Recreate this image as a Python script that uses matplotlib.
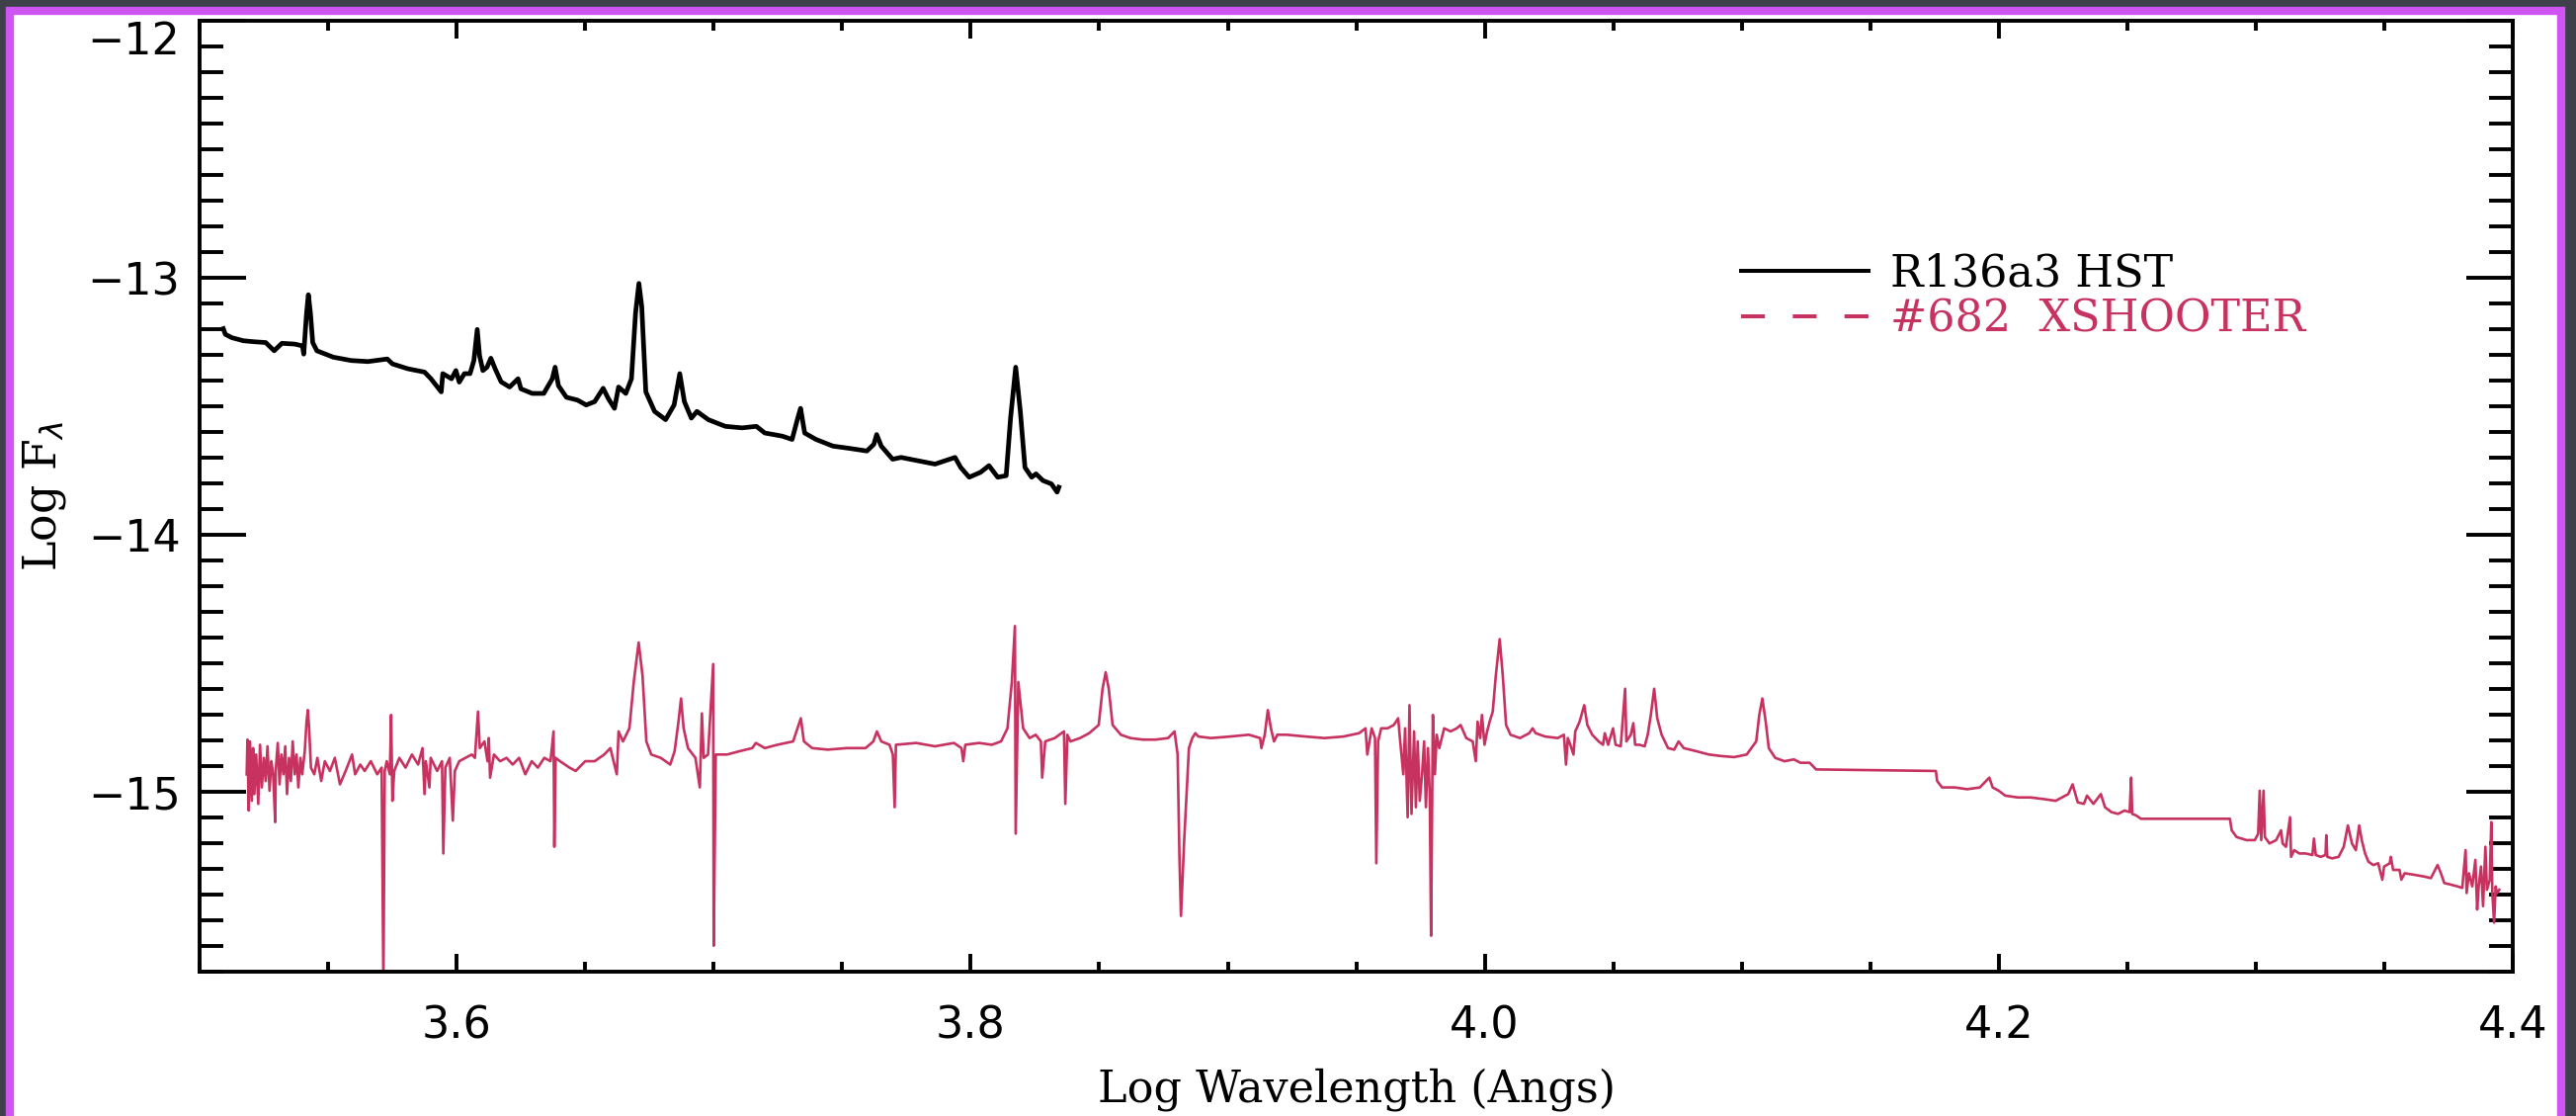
import matplotlib.pyplot as plt
from matplotlib.lines import Line2D
from matplotlib.patches import Rectangle
from matplotlib.ticker import MultipleLocator

# R136a3 HST spectrum (log wavelength / log flux)
hst_logwave = [3.5092, 3.5100, 3.5125, 3.5170, 3.5213, 3.5257, 3.5290, 3.5320, 3.5370, 3.5400,
               3.5405, 3.5416, 3.5423, 3.5431, 3.5440, 3.5456, 3.5520, 3.5590, 3.5655, 3.5730,
               3.5750, 3.5810, 3.5875, 3.5900, 3.5940, 3.5946, 3.5980, 3.5997, 3.6010, 3.6030,
               3.6052, 3.6067, 3.6080, 3.6089, 3.6102, 3.6118, 3.6133, 3.6150, 3.6173, 3.6206,
               3.6239, 3.6250, 3.6294, 3.6339, 3.6372, 3.6383, 3.6396, 3.6427, 3.6470, 3.6504,
               3.6537, 3.6570, 3.6590, 3.6614, 3.6630, 3.6658, 3.6680, 3.6696, 3.6709, 3.6720,
               3.6736, 3.6770, 3.6813, 3.6846, 3.6868, 3.6886, 3.6913, 3.6935, 3.6979, 3.7045,
               3.7111, 3.7166, 3.7199, 3.7266, 3.7305, 3.7327, 3.7338, 3.7354, 3.7398, 3.7464,
               3.7530, 3.7596, 3.7623, 3.7634, 3.7652, 3.7696, 3.7729, 3.7795, 3.7861, 3.7939,
               3.7961, 3.7994, 3.8038, 3.8071, 3.8105, 3.8138, 3.8155, 3.8175, 3.8193, 3.8211,
               3.8237, 3.8254, 3.8281, 3.8314, 3.8336, 3.8343]
hst_logflux = [-13.198, -13.220, -13.233, -13.245, -13.249, -13.252, -13.284, -13.255, -13.258, -13.265,
               -13.297, -13.137, -13.066, -13.137, -13.252, -13.284, -13.309, -13.322, -13.326, -13.316,
               -13.335, -13.354, -13.367, -13.393, -13.444, -13.373, -13.393, -13.361, -13.406, -13.373,
               -13.373, -13.322, -13.201, -13.303, -13.361, -13.348, -13.313, -13.355, -13.405, -13.425,
               -13.393, -13.432, -13.450, -13.450, -13.393, -13.348, -13.420, -13.465, -13.476, -13.495,
               -13.482, -13.430, -13.470, -13.508, -13.425, -13.450, -13.393, -13.137, -13.022, -13.111,
               -13.444, -13.520, -13.552, -13.495, -13.373, -13.482, -13.546, -13.520, -13.552, -13.578,
               -13.584, -13.578, -13.604, -13.616, -13.629, -13.546, -13.508, -13.604, -13.629, -13.655,
               -13.664, -13.674, -13.648, -13.610, -13.655, -13.706, -13.699, -13.712, -13.725, -13.699,
               -13.738, -13.776, -13.757, -13.731, -13.776, -13.770, -13.546, -13.348, -13.520, -13.738,
               -13.776, -13.763, -13.789, -13.802, -13.834, -13.815]

# star #682 XSHOOTER spectrum
xsh_logwave = [3.5183, 3.5186, 3.5191, 3.5196, 3.5203, 3.5208, 3.5213, 3.5220, 3.5228, 3.5235,
               3.5242, 3.5250, 3.5257, 3.5264, 3.5272, 3.5279, 3.5286, 3.5294, 3.5296, 3.5304,
               3.5311, 3.5318, 3.5326, 3.5333, 3.5340, 3.5348, 3.5355, 3.5362, 3.5370, 3.5377,
               3.5384, 3.5392, 3.5399, 3.5409, 3.5416, 3.5421, 3.5426, 3.5433, 3.5446, 3.5458,
               3.5473, 3.5487, 3.5507, 3.5526, 3.5546, 3.5568, 3.5593, 3.5605, 3.5625, 3.5642,
               3.5666, 3.5691, 3.5708, 3.5715, 3.5720, 3.5728, 3.5740, 3.5745, 3.5750, 3.5757,
               3.5777, 3.5801, 3.5826, 3.5850, 3.5867, 3.5875, 3.5880, 3.5894, 3.5899, 3.5924,
               3.5943, 3.5948, 3.5956, 3.5973, 3.5985, 3.5993, 3.6010, 3.6034, 3.6059, 3.6071,
               3.6083, 3.6090, 3.6108, 3.6120, 3.6125, 3.6130, 3.6145, 3.6169, 3.6194, 3.6218,
               3.6243, 3.6267, 3.6292, 3.6316, 3.6341, 3.6365, 3.6377, 3.6380, 3.6385, 3.6402,
               3.6439, 3.6463, 3.6500, 3.6537, 3.6574, 3.6598, 3.6623, 3.6630, 3.6647, 3.6672,
               3.6689, 3.6708, 3.6723, 3.6738, 3.6757, 3.6794, 3.6831, 3.6848, 3.6863, 3.6873,
               3.6883, 3.6900, 3.6929, 3.6946, 3.6954, 3.6961, 3.6978, 3.6998, 3.7000, 3.7008,
               3.7052, 3.7101, 3.7150, 3.7164, 3.7199, 3.7248, 3.7309, 3.7326, 3.7339, 3.7351,
               3.7383, 3.7444, 3.7518, 3.7591, 3.7621, 3.7635, 3.7652, 3.7684, 3.7697, 3.7704,
               3.7709, 3.7788, 3.7861, 3.7935, 3.7964, 3.7971, 3.7979, 3.8033, 3.8082, 3.8118,
               3.8143, 3.8160, 3.8172, 3.8175, 3.8185, 3.8204, 3.8229, 3.8253, 3.8273, 3.8278,
               3.8290, 3.8327, 3.8363, 3.8368, 3.8376, 3.8388, 3.8425, 3.8461, 3.8498, 3.8513,
               3.8525, 3.8537, 3.8552, 3.8584, 3.8621, 3.8670, 3.8719, 3.8768, 3.8793, 3.8805,
               3.8812, 3.8818, 3.8830, 3.8849, 3.8862, 3.8874, 3.8886, 3.8935, 3.9009, 3.9082,
               3.9126, 3.9131, 3.9144, 3.9156, 3.9168, 3.9180, 3.9193, 3.9229, 3.9303, 3.9376,
               3.9450, 3.9511, 3.9536, 3.9543, 3.9560, 3.9573, 3.9578, 3.9585, 3.9597, 3.9622,
               3.9646, 3.9663, 3.9671, 3.9683, 3.9690, 3.9700, 3.9707, 3.9715, 3.9725, 3.9732,
               3.9739, 3.9747, 3.9756, 3.9764, 3.9771, 3.9779, 3.9786, 3.9791, 3.9798, 3.9806,
               3.9813, 3.9823, 3.9842, 3.9867, 3.9891, 3.9906, 3.9928, 3.9953, 3.9965, 3.9972,
               3.9982, 3.9989, 3.9999, 4.0009, 4.0019, 4.0031, 4.0043, 4.0058, 4.0070, 4.0083,
               4.0100, 4.0137, 4.0173, 4.0186, 4.0198, 4.0235, 4.0284, 4.0308, 4.0316, 4.0323,
               4.0333, 4.0345, 4.0352, 4.0369, 4.0387, 4.0399, 4.0418, 4.0443, 4.0460, 4.0467,
               4.0480, 4.0499, 4.0509, 4.0529, 4.0546, 4.0551, 4.0568, 4.0578, 4.0585, 4.0602,
               4.0622, 4.0634, 4.0646, 4.0659, 4.0671, 4.0688, 4.0713, 4.0737, 4.0754, 4.0774,
               4.0823, 4.0872, 4.0921, 4.0970, 4.1019, 4.1056, 4.1068, 4.1080, 4.1093, 4.1105,
               4.1130, 4.1166, 4.1203, 4.1228, 4.1264, 4.1289, 4.1755, 4.1760, 4.1779, 4.1828,
               4.1877, 4.1926, 4.1963, 4.1976, 4.2000, 4.2025, 4.2074, 4.2123, 4.2172, 4.2221,
               4.2270, 4.2287, 4.2307, 4.2331, 4.2343, 4.2368, 4.2397, 4.2413, 4.2438, 4.2464,
               4.2489, 4.2509, 4.2515, 4.2519, 4.2534, 4.2553, 4.2899, 4.2906, 4.2925, 4.2964,
               4.2996, 4.3009, 4.3015, 4.3021, 4.3030, 4.3035, 4.3053, 4.3079, 4.3098, 4.3104,
               4.3117, 4.3133, 4.3137, 4.3149, 4.3169, 4.3194, 4.3220, 4.3226, 4.3233, 4.3252,
               4.3271, 4.3274, 4.3278, 4.3297, 4.3322, 4.3342, 4.3358, 4.3374, 4.3389, 4.3402,
               4.3412, 4.3425, 4.3438, 4.3457, 4.3476, 4.3492, 4.3499, 4.3521, 4.3525, 4.3534,
               4.3559, 4.3566, 4.3579, 4.3617, 4.3656, 4.3681, 4.3707, 4.3720, 4.3733, 4.3758,
               4.3784, 4.3803, 4.3816, 4.3820, 4.3829, 4.3842, 4.3854, 4.3861, 4.3867, 4.3876,
               4.3884, 4.3893, 4.3899, 4.3910, 4.3916, 4.3920, 4.3927, 4.3933, 4.3938, 4.3947]
xsh_logflux = [-14.932, -14.797, -15.073, -14.804, -15.035, -14.830, -15.009, -14.855, -15.047, -14.817,
               -14.983, -14.868, -14.958, -14.823, -14.996, -14.881, -14.932, -15.118, -14.919, -14.810,
               -14.971, -14.855, -14.932, -14.823, -15.009, -14.868, -14.958, -14.804, -14.932, -14.855,
               -14.983, -14.868, -14.932, -14.842, -14.727, -14.682, -14.753, -14.906, -14.932, -14.868,
               -14.958, -14.881, -14.919, -14.868, -14.971, -14.919, -14.855, -14.932, -14.894, -14.919,
               -14.881, -14.932, -14.906, -15.750, -14.919, -14.881, -14.932, -14.701, -15.035, -14.919,
               -14.868, -14.906, -14.855, -14.894, -14.830, -15.009, -14.881, -14.983, -14.868, -14.919,
               -14.881, -15.240, -14.906, -14.868, -15.112, -14.919, -14.881, -14.868, -14.855, -14.868,
               -14.688, -14.830, -14.804, -14.881, -14.791, -14.945, -14.855, -14.881, -14.868, -14.894,
               -14.868, -14.932, -14.881, -14.906, -14.868, -14.881, -14.765, -15.214, -14.868, -14.881,
               -14.906, -14.919, -14.881, -14.881, -14.855, -14.830, -14.932, -14.765, -14.804, -14.753,
               -14.573, -14.419, -14.547, -14.804, -14.855, -14.868, -14.894, -14.842, -14.727, -14.637,
               -14.753, -14.830, -14.868, -14.983, -14.695, -14.868, -14.855, -14.503, -15.599, -14.855,
               -14.855, -14.842, -14.830, -14.810, -14.830, -14.817, -14.804, -14.753, -14.714, -14.804,
               -14.830, -14.836, -14.830, -14.830, -14.804, -14.765, -14.804, -14.817, -14.855, -15.060,
               -14.817, -14.810, -14.823, -14.810, -14.830, -14.881, -14.817, -14.810, -14.817, -14.804,
               -14.753, -14.573, -14.355, -15.163, -14.573, -14.753, -14.791, -14.778, -14.804, -14.945,
               -14.804, -14.791, -14.765, -15.047, -14.778, -14.804, -14.791, -14.772, -14.740, -14.599,
               -14.535, -14.599, -14.740, -14.778, -14.791, -14.797, -14.797, -14.791, -14.765, -14.855,
               -15.250, -15.483, -15.200, -14.830, -14.791, -14.772, -14.785, -14.791, -14.785, -14.778,
               -14.791, -14.830, -14.778, -14.682, -14.753, -14.804, -14.778, -14.778, -14.785, -14.791,
               -14.785, -14.772, -14.753, -14.855, -14.753, -14.791, -15.278, -14.804, -14.753, -14.753,
               -14.740, -14.714, -14.804, -14.932, -14.753, -15.099, -14.663, -15.086, -14.765, -15.060,
               -14.804, -15.035, -14.932, -14.804, -15.060, -14.830, -15.009, -15.560, -14.701, -14.932,
               -14.778, -14.830, -14.753, -14.765, -14.753, -14.740, -14.791, -14.804, -14.881, -14.727,
               -14.791, -14.701, -14.817, -14.765, -14.727, -14.688, -14.547, -14.406, -14.547, -14.740,
               -14.778, -14.791, -14.772, -14.753, -14.772, -14.785, -14.791, -14.778, -14.894, -14.791,
               -14.817, -14.855, -14.765, -14.727, -14.663, -14.740, -14.778, -14.804, -14.817, -14.772,
               -14.817, -14.753, -14.817, -14.823, -14.599, -14.804, -14.778, -14.733, -14.817, -14.817,
               -14.823, -14.778, -14.701, -14.599, -14.714, -14.778, -14.830, -14.836, -14.804, -14.830,
               -14.842, -14.855, -14.861, -14.865, -14.855, -14.804, -14.701, -14.637, -14.727, -14.830,
               -14.868, -14.881, -14.874, -14.887, -14.887, -14.913, -14.919, -14.958, -14.983, -14.983,
               -14.990, -14.983, -14.945, -14.983, -14.996, -15.015, -15.022, -15.022, -15.028, -15.035,
               -15.009, -14.971, -15.041, -15.047, -15.015, -15.047, -15.009, -15.060, -15.079, -15.086,
               -15.073, -15.079, -14.945, -15.086, -15.092, -15.105, -15.105, -15.150, -15.176, -15.188,
               -15.188, -15.163, -14.996, -15.188, -14.996, -15.176, -15.201, -15.188, -15.150, -15.201,
               -15.214, -15.099, -15.253, -15.227, -15.240, -15.240, -15.246, -15.182, -15.246, -15.253,
               -15.246, -15.169, -15.253, -15.259, -15.253, -15.214, -15.131, -15.201, -15.227, -15.131,
               -15.188, -15.240, -15.272, -15.285, -15.278, -15.342, -15.291, -15.278, -15.253, -15.304,
               -15.304, -15.342, -15.317, -15.323, -15.330, -15.336, -15.285, -15.317, -15.355, -15.361,
               -15.368, -15.374, -15.227, -15.394, -15.317, -15.368, -15.265, -15.458, -15.368, -15.291,
               -15.445, -15.214, -15.381, -15.342, -15.118, -15.394, -15.509, -15.368, -15.394, -15.381]

series_labels = ['R136a3 HST', '#682  XSHOOTER']
y_ticks = [-15, -14, -13, -12]
pink = '#c73261'
serif = 'DejaVu Serif'

fig = plt.figure(figsize=(26.07, 11.29), dpi=100, facecolor='#3e414a')

# white slide panel with purple border
panel = Rectangle((10 / 2607, -0.05), 2582 / 2607, 1.05 - 11 / 1129,
                  transform=fig.transFigure, facecolor='white',
                  edgecolor='#cf55f2', lw=6, zorder=0)
fig.add_artist(panel)

ax = fig.add_axes([0.0775, 0.1293, 0.8980, 0.8521])
ax.set_facecolor('white')

ax.plot(hst_logwave, hst_logflux, color='black', lw=3.4, zorder=3)
ax.plot(xsh_logwave, xsh_logflux, color=pink, lw=1.9, zorder=2)

ax.set_xlim(3.5, 4.4)
ax.set_ylim(-15.7, -12)
ax.xaxis.set_major_locator(MultipleLocator(0.2))
ax.xaxis.set_minor_locator(MultipleLocator(0.05))
ax.set_yticks(y_ticks)
ax.yaxis.set_minor_locator(MultipleLocator(0.1))
ax.xaxis.set_major_formatter(plt.FuncFormatter(lambda v, p: f'{v:.1f}'))

for s in ax.spines.values():
    s.set_linewidth(2.8)

ax.tick_params(which='both', direction='in', top=True, right=True, width=2.8)
ax.tick_params(axis='x', which='major', length=13, pad=24, labelsize=32)
ax.tick_params(axis='x', which='minor', length=7)
ax.tick_params(axis='y', which='major', length=34, pad=14, labelsize=32)
ax.tick_params(axis='y', which='minor', length=17)

# top label sits just under the frame, as in the original
ax.yaxis.get_major_ticks()[-1].label1.set_verticalalignment('top')

ax.set_xlabel('Log Wavelength (Angs)', fontsize=32, family=serif)
ax.xaxis.set_label_coords(0.5, -0.101)
ax.set_ylabel(r'Log F$_\lambda$', fontsize=33, family=serif)
ax.yaxis.set_label_coords(-0.057, 0.5)

handles = [Line2D([], [], color='black', lw=2.9),
           Line2D([], [], color=pink, lw=2.9, ls=(0, (6, 7)))]
ax.legend(handles, series_labels, loc='upper left', bbox_to_anchor=(0.6664, 0.756),
          frameon=False, borderpad=0, borderaxespad=0, handlelength=2.9,
          handletextpad=0.5, labelspacing=0.05, labelcolor=['black', pink],
          prop={'family': serif, 'size': 32})

plt.savefig('out.png', dpi=100, facecolor=fig.get_facecolor())
